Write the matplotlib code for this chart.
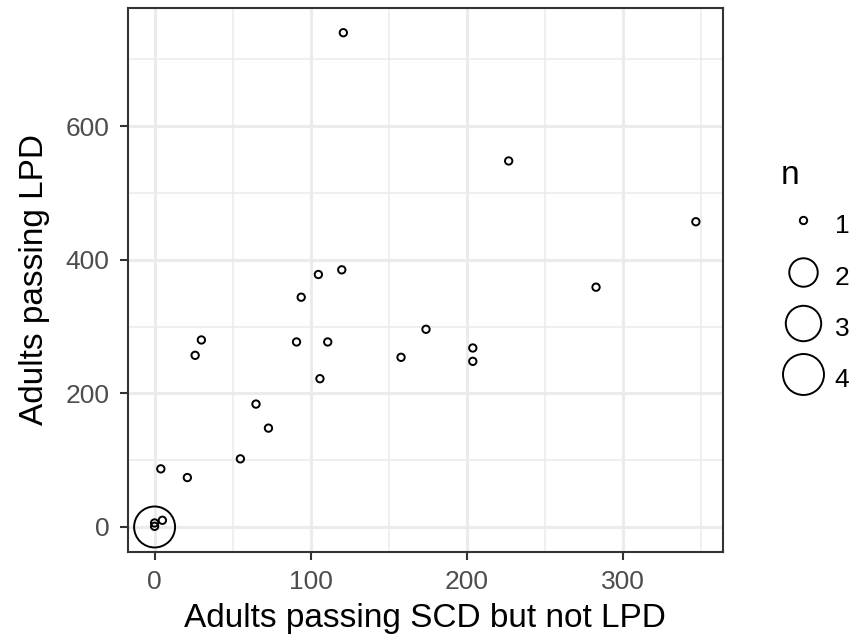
import matplotlib.pyplot as plt
from matplotlib.lines import Line2D
import numpy as np

plt.rcParams['font.family'] = ['Liberation Sans', 'DejaVu Sans']

# values
scd_not_lpd = [121, 227, 347, 120, 105, 94, 283, 30, 26, 91, 111, 174, 158,
               204, 204, 106, 65, 73, 55, 4, 21, 5, 0, 0, 0]
lpd = [740, 548, 457, 385, 378, 344, 359, 280, 257, 277, 277, 296, 254,
       268, 248, 222, 184, 148, 102, 87, 74, 10, 6, 1, 0]
n = [1, 1, 1, 1, 1, 1, 1, 1, 1, 1, 1, 1, 1,
     1, 1, 1, 1, 1, 1, 1, 1, 1, 1, 1, 4]

legend_n = [1, 2, 3, 4]
# marker diameter (points) for each n
diam = {1: 5.3, 2: 20.5, 3: 25.5, 4: 29.5}

fig = plt.figure(figsize=(8.53, 6.35), dpi=100)
ax = fig.add_axes([0.1495, 0.1312, 0.698, 0.8562])

sizes = [diam[k] ** 2 for k in n]
ax.scatter(scd_not_lpd, lpd, s=sizes, facecolors='none', edgecolors='black',
           linewidths=1.4, zorder=3)

ax.set_xlim(-17.35, 364.35)
ax.set_ylim(-37, 777)
ax.set_xticks([0, 100, 200, 300])
ax.set_yticks([0, 200, 400, 600])
ax.set_xticks([50, 150, 250, 350], minor=True)
ax.set_yticks([100, 300, 500, 700], minor=True)
ax.grid(which='major', color='#EBEBEB', linewidth=2.2, zorder=0)
ax.grid(which='minor', color='#EBEBEB', linewidth=1.1, zorder=0)
ax.set_axisbelow(True)
for sp in ax.spines.values():
    sp.set_color('#333333')
    sp.set_linewidth(1.5)
ax.tick_params(which='major', length=5.5, width=1.5, color='#333333',
               labelcolor='#4D4D4D', labelsize=19, pad=7.5)
ax.tick_params(which='minor', length=0)

ax.set_xlabel('Adults passing SCD but not LPD', fontsize=24, labelpad=6.5)
ax.set_ylabel('Adults passing LPD', fontsize=24, labelpad=11)

handles = [Line2D([], [], linestyle='none', marker='o', markersize=diam[k],
                  markerfacecolor='none', markeredgecolor='black',
                  markeredgewidth=1.4) for k in legend_n]
leg = ax.legend(handles, [str(k) for k in legend_n], title='n',
                loc='upper left', bbox_to_anchor=(0.9156, 0.748),
                bbox_transform=fig.transFigure, frameon=False,
                fontsize=19, title_fontsize=24, handletextpad=0.39,
                handlelength=1.65, handleheight=1.65,
                labelspacing=0.62, borderaxespad=0, borderpad=0)
leg._legend_box.align = 'left'

fig.savefig('out.png', dpi=100)
